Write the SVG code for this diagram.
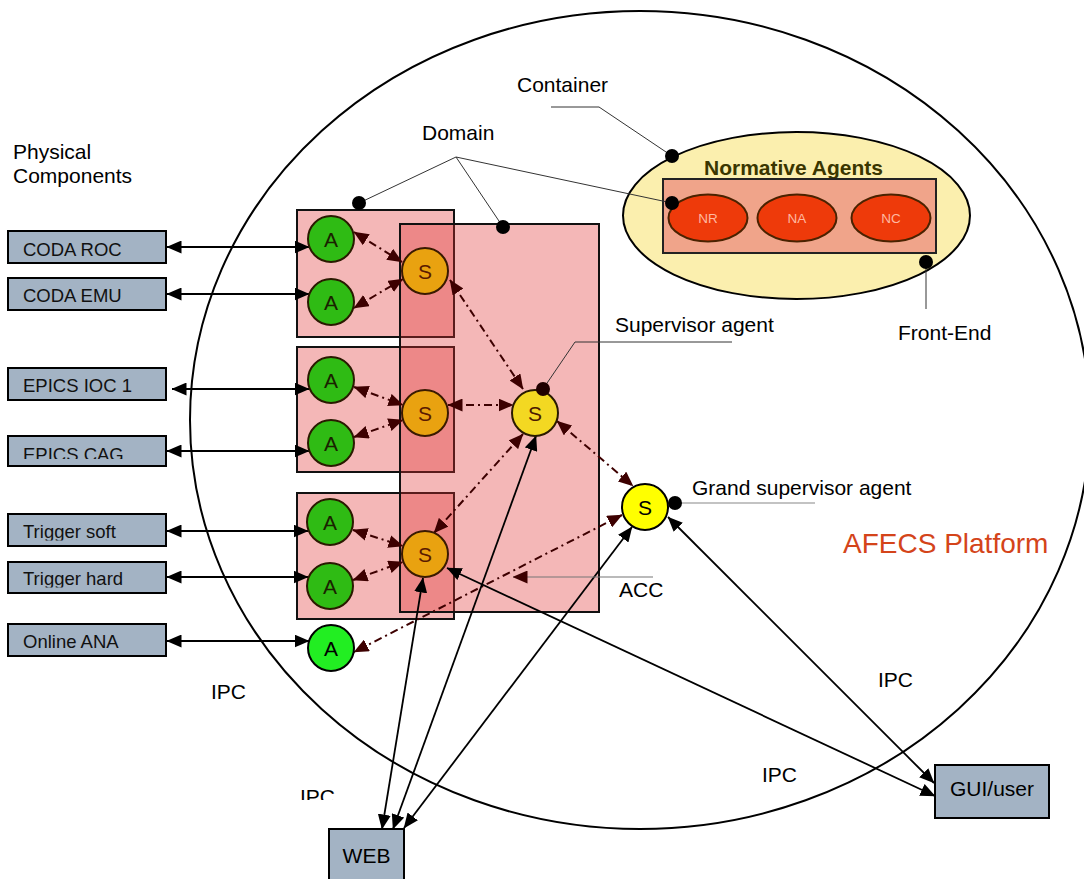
<svg xmlns="http://www.w3.org/2000/svg" width="1084" height="879" viewBox="0 0 1084 879">
<style>
text{font-family:"Liberation Sans",Arial,sans-serif;}
.lbl{font-size:21px;fill:#000;}
.box{fill:#a3b3c4;stroke:#000;stroke-width:2;}
.bt{font-size:18.5px;fill:#111;}
.dom{fill:#e03030;fill-opacity:0.35;stroke:#111;stroke-width:2;}
.ag{fill:#2fbb14;stroke:#2a1a00;stroke-width:2;}
.so{fill:#e9a210;stroke:#3a1a00;stroke-width:2;}
.ct{font-size:21px;text-anchor:middle;}
.lead{fill:none;stroke:#333;stroke-width:1;}
.dot{fill:#000;}
.sol{fill:none;stroke:#000;stroke-width:1.8;marker-start:url(#ab);marker-end:url(#ab);}
.dd{fill:none;stroke:#3d0000;stroke-width:2;stroke-dasharray:8 4 2 4;marker-start:url(#ar);marker-end:url(#ar);}
.na{fill:#ee3a0a;stroke:#4a2200;stroke-width:2;}
.nat{font-size:13.5px;fill:#ffb8a0;text-anchor:middle;}
</style>
<defs>
<marker id="ab" viewBox="0 0 15 13" refX="14.5" refY="6.5" markerWidth="15" markerHeight="13" markerUnits="userSpaceOnUse" orient="auto-start-reverse"><path d="M0,0L15,6.5L0,13z" fill="#000"/></marker>
<marker id="ar" viewBox="0 0 15 13" refX="14.5" refY="6.5" markerWidth="15" markerHeight="13" markerUnits="userSpaceOnUse" orient="auto-start-reverse"><path d="M0,0L15,6.5L0,13z" fill="#3d0000"/></marker>
<clipPath id="cCag"><rect x="8" y="436" width="158" height="23"/></clipPath>
<clipPath id="cTs"><rect x="8" y="514" width="158" height="26.5"/></clipPath>
<clipPath id="cTh"><rect x="8" y="562" width="158" height="25.5"/></clipPath>
<clipPath id="cIpc"><rect x="290" y="770" width="60" height="30"/></clipPath>
</defs>
<rect width="1084" height="879" fill="#fff"/>

<g id="platform">
<ellipse cx="640" cy="420" rx="450" ry="409" fill="none" stroke="#000" stroke-width="2"/>
<text x="843" y="553" style="font-size:28px;fill:#d4441a;">AFECS Platform</text>
</g>

<g id="container">
<ellipse cx="796.5" cy="215.5" rx="173.5" ry="83.5" fill="#fbefae" stroke="#000" stroke-width="2"/>
<text x="704" y="175" style="font-size:21px;font-weight:bold;fill:#3a3600;">Normative Agents</text>
<rect x="663" y="179" width="273" height="74" fill="#f0a48a" stroke="#222" stroke-width="2"/>
<g id="NR"><ellipse class="na" cx="708" cy="218" rx="39.5" ry="23.5"/><text class="nat" x="708" y="223">NR</text></g>
<g id="NA"><ellipse class="na" cx="797" cy="218" rx="39.5" ry="23.5"/><text class="nat" x="797" y="223">NA</text></g>
<g id="NC"><ellipse class="na" cx="891" cy="218" rx="39.5" ry="23.5"/><text class="nat" x="891" y="223">NC</text></g>
</g>

<g id="domains">
<rect id="domain1" class="dom" x="297" y="210" width="157" height="127"/>
<rect id="domain2" class="dom" x="297" y="347" width="157" height="125"/>
<rect id="domain3" class="dom" x="297" y="493" width="157" height="126"/>
<rect id="domainBig" class="dom" x="400" y="224" width="199" height="388"/>
</g>

<g id="physical">
<g id="codaroc"><rect class="box" x="8" y="231" width="158" height="32"/><text class="bt" x="23" y="256">CODA ROC</text></g>
<g id="codaemu"><rect class="box" x="8" y="278" width="158" height="32"/><text class="bt" x="23" y="302">CODA EMU</text></g>
<g id="epicsioc"><rect class="box" x="8" y="368" width="158" height="32"/><text class="bt" x="23" y="392">EPICS IOC 1</text></g>
<g id="epicscag"><rect class="box" x="8" y="436" width="158" height="30"/><text class="bt" x="23" y="460.5" clip-path="url(#cCag)">EPICS CAG</text></g>
<g id="trigsoft"><rect class="box" x="8" y="514" width="158" height="32"/><text class="bt" x="23" y="538" clip-path="url(#cTs)">Trigger soft</text></g>
<g id="trighard"><rect class="box" x="8" y="562" width="158" height="31"/><text class="bt" x="23" y="585" clip-path="url(#cTh)">Trigger hard</text></g>
<g id="onlineana"><rect class="box" x="8" y="624" width="158" height="32"/><text class="bt" x="23" y="648">Online ANA</text></g>
<g id="web"><rect class="box" x="329" y="829" width="75" height="62"/><text x="366.5" y="863" style="font-size:21px;text-anchor:middle;">WEB</text></g>
<g id="gui"><rect class="box" x="935" y="765" width="114" height="53"/><text x="992" y="796" style="font-size:21px;text-anchor:middle;">GUI/user</text></g>
</g>

<g id="connectors">
<line class="sol" x1="167" y1="247" x2="309" y2="247"/>
<line class="sol" x1="167" y1="294" x2="309" y2="294"/>
<line class="sol" x1="172" y1="389" x2="309" y2="389"/>
<line class="sol" x1="167" y1="451" x2="309" y2="451"/>
<line class="sol" x1="167" y1="531" x2="308" y2="531"/>
<line class="sol" x1="167" y1="577" x2="308" y2="577"/>
<line class="sol" x1="167" y1="641" x2="309" y2="641"/>

<line class="dd" x1="354" y1="232" x2="402" y2="262"/>
<line class="dd" x1="354" y1="308" x2="403" y2="279"/>
<line class="dd" x1="354" y1="387" x2="403" y2="405"/>
<line class="dd" x1="354" y1="437" x2="403" y2="420"/>
<line class="dd" x1="353" y1="530" x2="403" y2="546"/>
<line class="dd" x1="353" y1="580" x2="403" y2="562"/>
<line class="dd" x1="450" y1="280" x2="523" y2="389"/>
<line class="dd" x1="448" y1="405" x2="513" y2="405"/>
<line class="dd" x1="434" y1="533" x2="523" y2="434"/>
<line class="dd" x1="557" y1="421" x2="633" y2="486"/>
<line class="dd" x1="622" y1="515" x2="354" y2="652"/>

<line class="sol" x1="423" y1="578" x2="382" y2="829"/>
<line class="sol" x1="536" y1="436" x2="393" y2="829"/>
<line class="sol" x1="632" y1="527" x2="404" y2="828"/>
<line class="sol" x1="447" y1="568" x2="935" y2="796"/>
<line class="sol" x1="668" y1="517" x2="934" y2="783"/>
</g>

<g id="agents">
<g id="A1"><circle class="ag" cx="331" cy="239" r="23"/><text class="ct" x="331" y="246.5" fill="#1a2200">A</text></g>
<g id="A2"><circle class="ag" cx="331" cy="302" r="23"/><text class="ct" x="331" y="309.5" fill="#1a2200">A</text></g>
<g id="A3"><circle class="ag" cx="331" cy="380" r="23"/><text class="ct" x="331" y="387.5" fill="#1a2200">A</text></g>
<g id="A4"><circle class="ag" cx="331" cy="443" r="23"/><text class="ct" x="331" y="450.5" fill="#1a2200">A</text></g>
<g id="A5"><circle class="ag" cx="330" cy="522" r="23"/><text class="ct" x="330" y="529.5" fill="#1a2200">A</text></g>
<g id="A6"><circle class="ag" cx="330" cy="586" r="23"/><text class="ct" x="330" y="593.5" fill="#1a2200">A</text></g>
<g id="A7"><circle cx="331" cy="648" r="23" fill="#22ee22" stroke="#000" stroke-width="2"/><text class="ct" x="331" y="655.5" fill="#000">A</text></g>
<g id="S1"><circle class="so" cx="425" cy="271" r="23"/><text class="ct" x="425" y="278.5" fill="#5a1a00">S</text></g>
<g id="S2"><circle class="so" cx="425" cy="413" r="23"/><text class="ct" x="425" y="420.5" fill="#5a1a00">S</text></g>
<g id="S3"><circle class="so" cx="425" cy="554" r="23"/><text class="ct" x="425" y="561.5" fill="#5a1a00">S</text></g>
<g id="supervisor"><circle cx="535" cy="413" r="23" fill="#f3d822" stroke="#2a1a00" stroke-width="2"/><text class="ct" x="535" y="420.5" fill="#4a1a00">S</text></g>
<g id="grand"><circle cx="645" cy="507" r="23" fill="#ffff00" stroke="#000" stroke-width="2"/><text class="ct" x="645" y="514.5" fill="#000">S</text></g>
</g>

<g id="labels">
<text class="lbl" x="13" y="159">Physical</text>
<text class="lbl" x="13" y="183">Components</text>
<text class="lbl" x="517" y="92">Container</text>
<path class="lead" d="M551,107H599L672,156"/>
<circle class="dot" cx="672" cy="156" r="7"/>
<text class="lbl" x="422" y="140">Domain</text>
<path class="lead" d="M359,203L456,157L503,227M456,157L672,203"/>
<circle class="dot" cx="359" cy="203" r="7"/>
<circle class="dot" cx="503" cy="227" r="7"/>
<circle class="dot" cx="672" cy="203" r="7"/>
<text class="lbl" x="898" y="340">Front-End</text>
<path class="lead" d="M926,262V309"/>
<circle class="dot" cx="926" cy="262" r="7"/>
<text class="lbl" x="615" y="332">Supervisor agent</text>
<path class="lead" d="M543,389L575,342H732"/>
<circle cx="543" cy="389" r="7" fill="#200000"/>
<text class="lbl" x="692" y="495">Grand supervisor agent</text>
<path d="M675,503H815" stroke="#888" stroke-width="1.2"/>
<circle class="dot" cx="675" cy="503" r="7"/>
<text class="lbl" x="619" y="597">ACC</text>
<line x1="513" y1="577" x2="653" y2="577" stroke="#777" stroke-width="1.2" marker-start="url(#ar)"/>
<text class="lbl" x="211" y="699">IPC</text>
<text class="lbl" x="300" y="804" clip-path="url(#cIpc)">IPC</text>
<text class="lbl" x="878" y="687">IPC</text>
<text class="lbl" x="762" y="782">IPC</text>
</g>
</svg>
